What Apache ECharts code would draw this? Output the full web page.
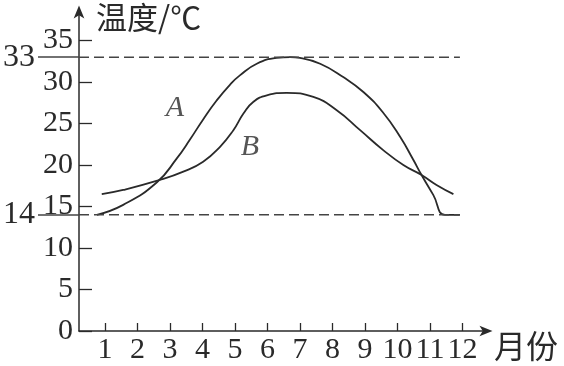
<!DOCTYPE html>
<html><head><meta charset="utf-8">
<script src="https://cdn.jsdelivr.net/npm/echarts@6/dist/echarts.min.js"></script>
<style>html,body{margin:0;padding:0;background:#fff}#c{width:564px;height:366px}</style>
</head><body><div id="c"></div>
<script>
const monthsA = [0.75,1.56,2.59,3.21,3.62,4.02,4.44,4.85,5.15,5.67,6.28,6.7,7.0,7.62,8.33,8.95,9.56,10.08,10.49,10.74,11.1,11.46,11.92];
const tempsA  = [14,15.2,17.9,20.8,23.1,25.5,27.8,29.7,30.8,32.2,32.9,33,32.9,32.2,30.6,28.8,26.3,23.4,20.6,18.8,16.4,14,14];
const monthsB = [0.9,1.56,2.69,3.41,4.02,4.54,4.95,5.26,5.56,5.98,6.59,7.41,8.13,8.85,9.56,10.18,10.74,11.2,11.72];
const tempsB  = [16.5,17,18.2,19.2,20.4,22.2,24.2,26.2,27.6,28.4,28.7,28.2,26.6,24.2,21.8,20,18.8,17.6,16.5];
const xTicks = [1,2,3,4,5,6,7,8,9,10,11,12];
const yTicks = [0,5,10,15,20,25,30,35];
const refValues = [33,14];
const axisStart = 0.2, refEnd = 11.92;
const curveLabels = [['A',3.15,26.9],['B',5.46,22.2]];
const yName = '温度/℃', xName = '月份';

const zip = (xs, ys) => xs.map((x,i)=>[x, ys[i]]);
const ink = '#2a2a2a';
const serif = '"Liberation Serif","DejaVu Serif",serif';

const series = [
  {type:'line', name:'A', data: zip(monthsA,tempsA), smooth:0.5, symbol:'none', lineStyle:{color:ink,width:1.8}},
  {type:'line', name:'B', data: zip(monthsB,tempsB), smooth:0.5, symbol:'none', lineStyle:{color:ink,width:1.8}},
  {type:'scatter', data: curveLabels.map(l=>[l[1],l[2],l[0]]), symbolSize:0, silent:true,
    label:{show:true, position:'inside', formatter:p=>p.data[2], color:ink, fontFamily:serif, fontStyle:'italic', fontSize:30}}
];
refValues.forEach(v=>{
  series.push({type:'line', data:[[axisStart,v],[refEnd,v]], symbol:'none', clip:false,
    lineStyle:{color:'#444',width:1.5,type:[10,5]}});
});

const chart = echarts.init(document.getElementById('c'), null, {renderer:'canvas'});
chart.setOption({
  animation:false,
  grid:{left:79, right:75.5, top:11.5, bottom:35, containLabel:false},
  xAxis:{type:'value', min:axisStart, max:12.8,
    axisLine:{show:true, onZero:false, lineStyle:{color:ink,width:1.5}, symbol:['none','arrow'], symbolSize:[8,13], symbolOffset:[0,4]},
    axisTick:{show:true, inside:true, length:8, lineStyle:{color:ink,width:1.3}, customValues:xTicks},
    axisLabel:{show:true, margin:4, color:ink, fontFamily:serif, fontSize:30, customValues:xTicks},
    splitLine:{show:false}},
  yAxis:[
    {type:'value', min:0, max:38.5,
    axisLine:{show:true, onZero:false, lineStyle:{color:ink,width:1.5}, symbol:['none','arrow'], symbolSize:[8,13], symbolOffset:[0,6]},
    axisTick:{show:true, inside:true, length:13, lineStyle:{color:ink,width:1.3}, customValues:yTicks},
    axisLabel:{show:true, margin:6, color:ink, fontFamily:serif, fontSize:30, customValues:yTicks},
    splitLine:{show:false}},
    {type:'value', min:0, max:38.5, position:'left', offset:0,
    axisLine:{show:false, onZero:false},
    axisTick:{show:true, inside:false, length:41, lineStyle:{color:'#444',width:1.5}, customValues:refValues},
    axisLabel:{show:true, margin:44, color:ink, fontFamily:serif, fontSize:32, customValues:refValues},
    splitLine:{show:false}}
  ],
  graphic:[
    {type:'text', left:96, top:2, style:{text:yName, fill:ink, font:'31px "Noto Sans CJK SC"'}},
    {type:'text', left:494, top:330, style:{text:xName, fill:ink, font:'32px "Noto Sans CJK SC"'}}
  ],
  series
});
</script></body></html>
